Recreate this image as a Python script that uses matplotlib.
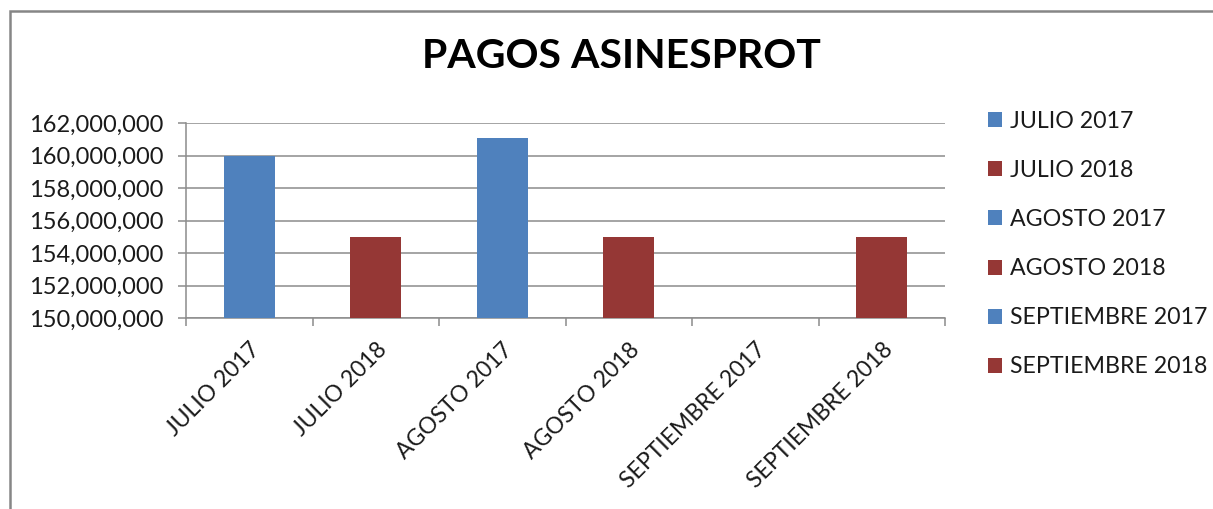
import matplotlib
matplotlib.use("Agg")
import matplotlib.pyplot as plt
from matplotlib.patches import Rectangle
from matplotlib.ticker import FuncFormatter, FixedLocator
import numpy as np

categories = ["JULIO 2017", "JULIO 2018", "AGOSTO 2017", "AGOSTO 2018",
              "SEPTIEMBRE 2017", "SEPTIEMBRE 2018"]
values = [160000000, 155000000, 161080000, 155000000, 0, 155000000]
colors = ["#4F81BD", "#953735", "#4F81BD", "#953735", "#4F81BD", "#953735"]
title = "PAGOS ASINESPROT"
y_ticks = [150000000, 152000000, 154000000, 156000000, 158000000, 160000000, 162000000]

plt.rcParams['font.family'] = ['Lato', 'DejaVu Sans']

W, H = 1213, 509
fig = plt.figure(figsize=(W / 100, H / 100), dpi=100)
ax = fig.add_axes([186 / W, 1 - 318 / H, (945 - 186) / W, (318 - 123) / H])

x = np.arange(len(categories))
bars = ax.bar(x, values, width=0.4, color=colors, zorder=3)

ax.set_xlim(-0.5, len(categories) - 0.5)
ax.set_ylim(y_ticks[0], y_ticks[-1])
ax.set_yticks(y_ticks)
ax.yaxis.set_major_formatter(FuncFormatter(lambda v, p: f"{int(v):,}"))
ax.grid(axis='y', color='#8c8c8c', linewidth=1.1, zorder=0)

grey = '#8c8c8c'
for s in ['top', 'right']:
    ax.spines[s].set_visible(False)
for s in ['left', 'bottom']:
    ax.spines[s].set_color(grey)
    ax.spines[s].set_linewidth(1.1)

ax.tick_params(axis='y', length=6, color=grey, width=1.1, pad=10,
               labelsize=17, labelcolor='#1a1a1a')
ax.set_xticks(x)
ax.set_xticklabels(categories, rotation=45, ha='right', rotation_mode='anchor',
                   fontsize=16.5, color='#1a1a1a')
ax.tick_params(axis='x', which='major', length=0, pad=15)
ax.xaxis.set_minor_locator(FixedLocator(np.arange(-0.5, len(categories), 1.0)))
ax.tick_params(axis='x', which='minor', length=6, color=grey, width=1.1)

fig.text(621 / W, 1 - 57 / H, title, ha='center', va='center',
         fontsize=29.5, fontweight='bold', color='black')

leg = fig.legend(bars.patches, categories, loc='upper left',
                 bbox_to_anchor=(988 / W, 1 - 111 / H), frameon=False,
                 fontsize=16.7, labelspacing=1.21, handlelength=0.62,
                 handleheight=0.62, handletextpad=0.32, borderaxespad=0,
                 borderpad=0)
for t in leg.get_texts():
    t.set_color('#1a1a1a')

fig.add_artist(Rectangle((10 / W, -0.1), 1.2, 1 - 11 / H + 0.1,
                         transform=fig.transFigure, fill=False,
                         edgecolor='#868686', linewidth=1.8))

fig.savefig("out.png", dpi=100, facecolor='white')
